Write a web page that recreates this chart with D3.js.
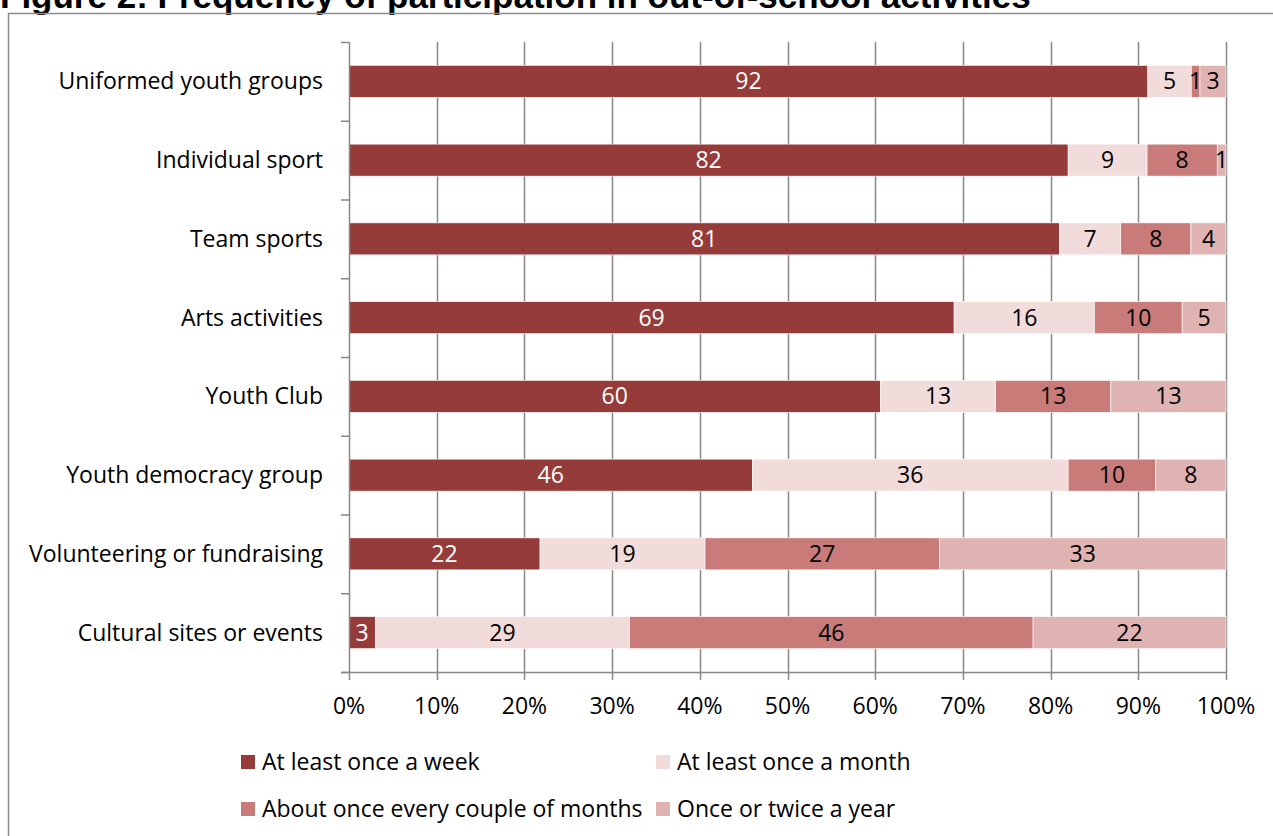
<!DOCTYPE html>
<html><head><meta charset="utf-8">
<script src="https://cdn.jsdelivr.net/npm/d3@7"></script>
<style>body{margin:0;background:#fff;overflow:hidden}</style>
</head><body>
<svg id="c" width="1273" height="836"></svg>
<script>
const categories = ["Uniformed youth groups","Individual sport","Team sports","Arts activities","Youth Club","Youth democracy group","Volunteering or fundraising","Cultural sites or events"];
const seriesNames = ["At least once a week","At least once a month","About once every couple of months","Once or twice a year"];
const weekly = [92,82,81,69,60,46,22,3];
const monthly = [5,9,7,16,13,36,19,29];
const coupleMonths = [1,8,8,10,13,10,27,46];
const yearly = [3,1,4,5,13,8,33,22];
const colors = ["#953b3a","#f2dcdb","#c97b79","#e0b3b3"];
const labelColors = ["#ffffff","#000000","#000000","#000000"];
const xTicks = [0,0.1,0.2,0.3,0.4,0.5,0.6,0.7,0.8,0.9,1];
const title = "Figure 2: Frequency of participation in out-of-school activities";

const svg = d3.select("#c");
const font = "'Open Sans', Lato, sans-serif";
const fs = 23;
const pLeft = 349, pRight = 1226, pTop = 42, pBottom = 672;

svg.append("text").attr("x",0).attr("y",8).attr("font-family","'Liberation Sans', Arial, sans-serif")
  .attr("font-weight","bold").attr("font-size",35).attr("fill","#000").text(title);
svg.append("path").attr("d","M8.5,836 V13.5 H1273").attr("fill","none").attr("stroke","#8c8c8c").attr("stroke-width",1.5);

const rows = categories.map((c,i)=>({cat:c, s0:weekly[i], s1:monthly[i], s2:coupleMonths[i], s3:yearly[i]}));
const keys = ["s0","s1","s2","s3"];
const stacked = d3.stack().keys(keys).offset(d3.stackOffsetExpand)(rows);

const x = d3.scaleLinear().domain([0,1]).range([pLeft,pRight]);
const y = d3.scaleBand().domain(categories).range([pTop,pBottom]).paddingInner(0.594).paddingOuter(0.297);
const yb = d3.scaleBand().domain(categories).range([pTop,pBottom]);

// gridlines
svg.append("g").selectAll("line").data(xTicks.slice(1)).join("line")
  .attr("x1",d=>Math.round(x(d))+0.5).attr("x2",d=>Math.round(x(d))+0.5)
  .attr("y1",pTop).attr("y2",pBottom+8).attr("stroke","#888").attr("stroke-width",1.5);

// bars
stacked.forEach((layer,k)=>{
  svg.append("g").selectAll("rect").data(layer).join("rect")
    .attr("x",d=>x(d[0])).attr("width",d=>x(d[1])-x(d[0]))
    .attr("y",d=>y(d.data.cat)).attr("height",y.bandwidth())
    .attr("fill",colors[k]).attr("stroke","#fff").attr("stroke-width",0.6);
  svg.append("g").selectAll("text").data(layer).join("text")
    .attr("x",d=>(x(d[0])+x(d[1]))/2).attr("y",d=>y(d.data.cat)+y.bandwidth()/2+8)
    .attr("text-anchor","middle").attr("font-family",font).attr("font-size",fs)
    .attr("fill",labelColors[k]).text(d=>d.data[keys[k]]);
});

// y axis line and ticks
svg.append("line").attr("x1",pLeft+0.5).attr("x2",pLeft+0.5).attr("y1",pTop).attr("y2",pBottom+8).attr("stroke","#888").attr("stroke-width",1.5);
svg.append("g").selectAll("line").data(categories.concat(["__end"])).join("line")
  .attr("x1",pLeft-8).attr("x2",pLeft)
  .attr("y1",(d,i)=>pTop+i*yb.step()+0.5).attr("y2",(d,i)=>pTop+i*yb.step()+0.5)
  .attr("stroke","#888").attr("stroke-width",1.5);
// x axis line
svg.append("line").attr("x1",pLeft-8).attr("x2",pRight+1).attr("y1",pBottom+0.5).attr("y2",pBottom+0.5).attr("stroke","#888").attr("stroke-width",1.5);

// category labels
svg.append("g").selectAll("text").data(categories).join("text")
  .attr("x",323).attr("y",d=>yb(d)+yb.bandwidth()/2+8).attr("text-anchor","end")
  .attr("font-family",font).attr("font-size",fs).attr("fill","#000").text(d=>d);

// x tick labels
svg.append("g").selectAll("text").data(xTicks).join("text")
  .attr("x",d=>x(d)).attr("y",714).attr("text-anchor","middle")
  .attr("font-family",font).attr("font-size",fs).attr("fill","#000").text(d3.format(".0%"));

// legend
const legPos = [[241,762],[656,762],[241,809],[656,809]];
seriesNames.forEach((n,i)=>{
  const [lx,ly] = legPos[i];
  svg.append("rect").attr("x",lx).attr("y",ly-7).attr("width",14).attr("height",14).attr("fill",colors[i]);
  svg.append("text").attr("x",lx+21).attr("y",ly+8).attr("font-family",font).attr("font-size",fs).attr("fill","#000").text(n);
});
</script>
</body></html>
